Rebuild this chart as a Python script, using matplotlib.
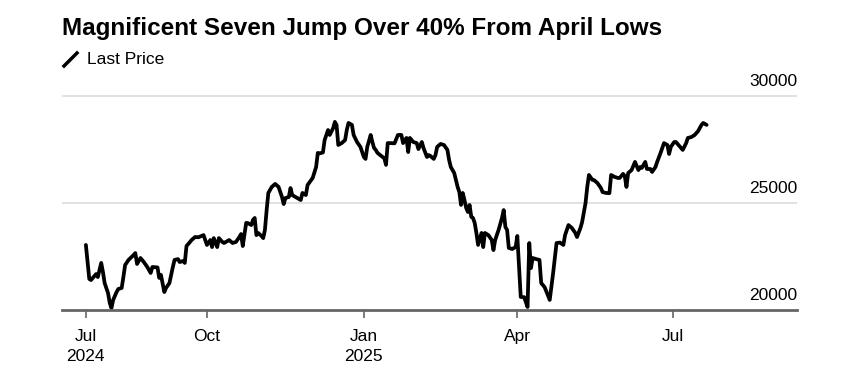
import pandas as pd
import matplotlib.pyplot as plt
from matplotlib.lines import Line2D

plt.rcParams['font.family'] = ['Liberation Sans', 'DejaVu Sans']

title = 'Magnificent Seven Jump Over 40% From April Lows'
series_name = 'Last Price'

# days after the first close, 2024-07-22
start = pd.Timestamp('2024-07-22')
days = [0, 2, 3, 5, 6, 7, 9, 10, 11, 13, 14, 15, 16, 18, 19, 21, 22, 23, 25, 28,
        29, 30, 32, 34, 36, 38, 39, 42, 43, 44, 46, 47, 49, 51, 52, 54, 55, 57, 58, 59,
        60, 62, 64, 66, 69, 71, 73, 74, 75, 77, 78, 80, 81, 84, 86, 88, 90, 91, 92, 94,
        95, 97, 98, 99, 100, 101, 103, 104, 105, 106, 107, 109, 111, 113, 115, 116, 117, 119, 120, 121,
        123, 124, 126, 127, 129, 130, 133, 135, 136, 137, 139, 140, 142, 143, 145, 146, 147, 148, 150, 152,
        153, 154, 156, 157, 159, 161, 163, 164, 165, 167, 168, 169, 170, 171, 174, 175, 176, 177, 178, 181,
        183, 185, 186, 188, 189, 190, 192, 194, 195, 197, 198, 200, 201, 202, 204, 205, 206, 208, 210, 212,
        213, 214, 216, 218, 219, 220, 221, 222, 223, 224, 225, 226, 227, 228, 229, 230, 232, 233, 234, 236,
        238, 239, 240, 242, 244, 245, 246, 247, 248, 250, 252, 253, 255, 257, 259, 260, 261, 262, 264, 266,
        267, 269, 272, 274, 276, 278, 280, 281, 283, 285, 287, 288, 290, 291, 293, 294, 295, 297, 298, 300,
        302, 303, 305, 307, 308, 310, 312, 313, 315, 316, 317, 318, 320, 322, 324, 325, 326, 328, 329, 331,
        332, 334, 335, 337, 339, 341, 342, 343, 345, 346, 349, 350, 352, 353, 355, 357, 359, 361, 362, 364]
price = [23040, 21450, 21400, 21590, 21680, 21540, 22200, 21780, 21260, 20790, 20330, 20090, 20470, 20840, 20980, 21030, 21540, 22100, 22340, 22570,
         22660, 22150, 22430, 22240, 22010, 21730, 22010, 21990, 21500, 21640, 20840, 21030, 21260, 22010, 22340, 22380, 22240, 22290, 22200, 22990,
         23080, 23270, 23410, 23400, 23500, 23040, 23270, 22940, 23360, 22940, 23360, 23180, 23130, 23270, 23130, 23180, 23410, 23550, 22990, 24070,
         24060, 23970, 24210, 24300, 23500, 23600, 23460, 23360, 23740, 24670, 25470, 25750, 25890, 25750, 25280, 24950, 25230, 25280, 25700, 25370,
         25280, 25230, 25140, 25470, 25370, 25840, 26170, 26680, 27340, 27320, 27360, 27940, 28410, 28180, 28500, 28790, 28650, 27710, 27800, 27940,
         28410, 28740, 28650, 28180, 27850, 27620, 27150, 27060, 27620, 28180, 27850, 27570, 27480, 27340, 27150, 27100, 26780, 27800, 27800, 27790,
         28180, 28180, 27800, 28040, 27380, 28040, 27850, 27800, 27520, 27850, 27570, 27150, 27240, 27200, 27060, 27240, 27620, 27760, 27710, 27480,
         27010, 26680, 26400, 25750, 25510, 24910, 25470, 25140, 24770, 24580, 24910, 24350, 24300, 24070, 23600, 23040, 23600, 22940, 23600, 23500,
         23270, 22800, 23270, 23740, 24300, 24670, 23880, 23740, 22900, 22850, 22940, 23460, 20610, 20600, 20140, 23130, 21960, 22430, 22380, 22340,
         21260, 21070, 20470, 21730, 23130, 23150, 23040, 23500, 23970, 23830, 23600, 23410, 23830, 24110, 25000, 25750, 26310, 26080, 26070, 25930,
         25700, 25510, 25470, 25460, 26310, 26220, 26170, 26170, 26360, 26260, 25750, 26400, 26540, 26920, 26540, 26680, 26640, 26920, 26590, 26590,
         26450, 26680, 26920, 27340, 27800, 27710, 27290, 27620, 27850, 27850, 27570, 27480, 27800, 28040, 28080, 28180, 28360, 28650, 28740, 28650]

tick_dates = ['2024-07-22', '2024-10-01', '2025-01-01', '2025-04-01', '2025-07-01']
tick_labels = ['Jul\n2024', 'Oct', 'Jan\n2025', 'Apr', 'Jul']
y_labels = [20000, 25000, 30000]

dates = start + pd.to_timedelta(days, unit='D')

W, H = 845, 380
fig = plt.figure(figsize=(W / 100, H / 100), dpi=100)
ax = fig.add_axes([62 / W, 70 / H, 735 / W, 240 / H])

for v in y_labels[1:]:
    ax.axhline(v, color='#dcdcdc', lw=1.2, zorder=0)

ax.plot(dates, price, color='black', lw=2.7, solid_joinstyle='round', solid_capstyle='round')

ax.set_ylim(20000, 31215)
ax.set_xlim(pd.Timestamp('2024-07-08'), pd.Timestamp('2025-09-12'))

for s in ['top', 'left', 'right']:
    ax.spines[s].set_visible(False)
ax.spines['bottom'].set_color('#666666')
ax.spines['bottom'].set_linewidth(2)

ax.set_yticks([])
ax.set_xticks(pd.to_datetime(tick_dates))
ax.set_xticklabels(tick_labels, linespacing=1.45)
ax.tick_params(axis='x', length=6, width=1.2, color='#666666', pad=7.5, labelsize=12.5)

for v in y_labels:
    ax.annotate(f'{v}', xy=(1, v), xycoords=('axes fraction', 'data'),
                xytext=(0, 7.5), textcoords='offset points',
                ha='right', va='baseline', fontsize=12.5)

fig.text(62 / W, 1 - 29 / H, title, fontsize=17.5, fontweight='bold', va='center')
fig.add_artist(Line2D([64 / W, 77 / W], [1 - 66 / H, 1 - 53 / H], color='black',
                      lw=2.5, transform=fig.transFigure))
fig.text(87 / W, 1 - 60 / H, series_name, fontsize=12.5, va='center')

fig.savefig('out.png', dpi=100)
